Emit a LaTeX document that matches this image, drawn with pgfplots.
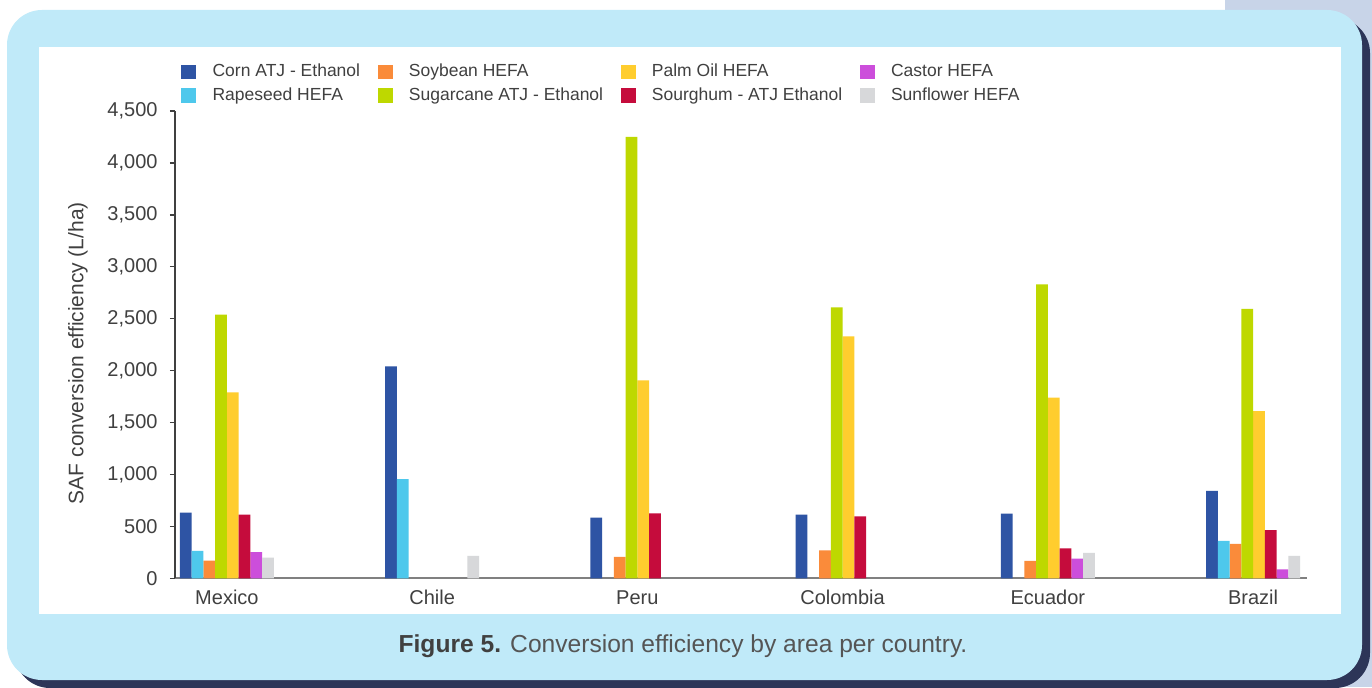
\documentclass[border=0pt]{standalone}
\usepackage{pgfplots}
\pgfplotsset{compat=1.18}
\usepackage{fontspec}
\setmainfont{Liberation Sans}
\definecolor{cCorn}{HTML}{2E54A4}
\definecolor{cRape}{HTML}{4EC8EC}
\definecolor{cSoy}{HTML}{FA8B3A}
\definecolor{cSugar}{HTML}{BED800}
\definecolor{cPalm}{HTML}{FFCD2E}
\definecolor{cSorg}{HTML}{C50C3C}
\definecolor{cCastor}{HTML}{CC4EDB}
\definecolor{cSun}{HTML}{D7D8DA}
\definecolor{frameblue}{HTML}{C0EAF9}
\definecolor{navy}{HTML}{2D3558}
\definecolor{strip}{HTML}{C8D4E8}
\definecolor{txt}{HTML}{404040}
\definecolor{capgray}{HTML}{555555}
\begin{document}
\begin{tikzpicture}
\useasboundingbox (0,0) rectangle (686pt,343.5pt);
\fill[white] (0,0) rectangle (686pt,343.5pt);
\fill[strip] (612.5pt,0) rectangle (686pt,343.5pt);
\fill[navy, rounded corners=17.5pt] (7.5pt,-0.5pt) rectangle (685pt,334.5pt);
\fill[frameblue, rounded corners=17.5pt] (3.5pt,3.5pt) rectangle (681pt,338.5pt);
\fill[white] (19.5pt,36.5pt) rectangle (670.5pt,320pt);
\node[font=\fontsize{12.3}{14}\selectfont, text=capgray] at (341.5pt,20.5pt) {\textbf{\color{txt}Figure 5.} Conversion efficiency by area per country.};
\begin{axis}[
  at={(87.5pt,54.35pt)}, anchor=south west, scale only axis,
  width=566pt, height=233.65pt,
  xmin=-0.253, xmax=5.263, ymin=0, ymax=4500,
  axis x line*=bottom, axis y line*=left,
  x axis line style={draw=gray, line width=1pt},
  y axis line style={draw=txt, line width=0.7pt},
  xtick={0,1,2,3,4,5},
  xticklabels={Mexico,Chile,Peru,Colombia,Ecuador,Brazil},
  xtick style={draw=none},
  ytick={0,500,...,4500},
  ytick style={draw=txt, line width=0.7pt},
  tick align=outside, major tick length=2.5pt,
  /pgf/number format/1000 sep={,},
  /pgf/number format/assume math mode=true,
  tick label style={font=\fontsize{10}{12}\selectfont, text=txt},
  yticklabel style={xshift=-2.7pt},
  xticklabel style={yshift=0pt},
  ylabel={SAF conversion efficiency (L/ha)},
  ylabel style={font=\fontsize{10.5}{12}\selectfont, text=txt, at={(axis description cs:-0.0857,0.482)}, anchor=center},
  legend columns=4,
  legend cell align=left,
  legend image code/.code={\fill[#1] (0pt,-3.7pt) rectangle (7.4pt,3.7pt); \path[draw=none, fill=none] (0pt,0pt) -- (13.6pt,0pt);},
  legend style={at={(axis description cs:0.0053,1.1095)}, anchor=north west, draw=none, fill=none, inner sep=0pt,
    font=\fontsize{8.75}{10}\selectfont, text=txt, row sep=0pt,
    /tikz/every even column/.append style={column sep=6.8pt}},
  every axis plot/.append style={ybar, bar width=0.0573, draw=none},
]
% legend row-major order: Corn, Soybean, Palm, Castor / Rapeseed, Sugarcane, Sorghum, Sunflower
\addplot[fill=cCorn, bar shift=-0.20055] coordinates {(0,632)(1,2040)(2,584)(3,613)(4,623)(5,841)};
\addlegendentry{Corn ATJ - Ethanol}
\addplot[fill=cSoy, bar shift=-0.08595] coordinates {(0,171)(2,207)(3,268)(4,168)(5,332)};
\addlegendentry{Soybean HEFA}
\addplot[fill=cPalm, bar shift=0.02865] coordinates {(0,1790)(2,1905)(3,2330)(4,1740)(5,1610)};
\addlegendentry{Palm Oil HEFA}
\addplot[fill=cCastor, bar shift=0.14325] coordinates {(0,251)(4,190)(5,87)};
\addlegendentry{Castor HEFA}
\addplot[fill=cRape, bar shift=-0.14325] coordinates {(0,265)(1,955)(5,361)};
\addlegendentry{Rapeseed HEFA}
\addplot[fill=cSugar, bar shift=-0.02865] coordinates {(0,2540)(2,4250)(3,2610)(4,2830)(5,2595)};
\addlegendentry{Sugarcane ATJ - Ethanol}
\addplot[fill=cSorg, bar shift=0.08595] coordinates {(0,613)(2,626)(3,597)(4,287)(5,464)};
\addlegendentry{Sourghum - ATJ Ethanol}
\addplot[fill=cSun, bar shift=0.20055] coordinates {(0,200)(1,217)(4,245)(5,217)};
\addlegendentry{Sunflower HEFA}
\end{axis}
\end{tikzpicture}
\end{document}
